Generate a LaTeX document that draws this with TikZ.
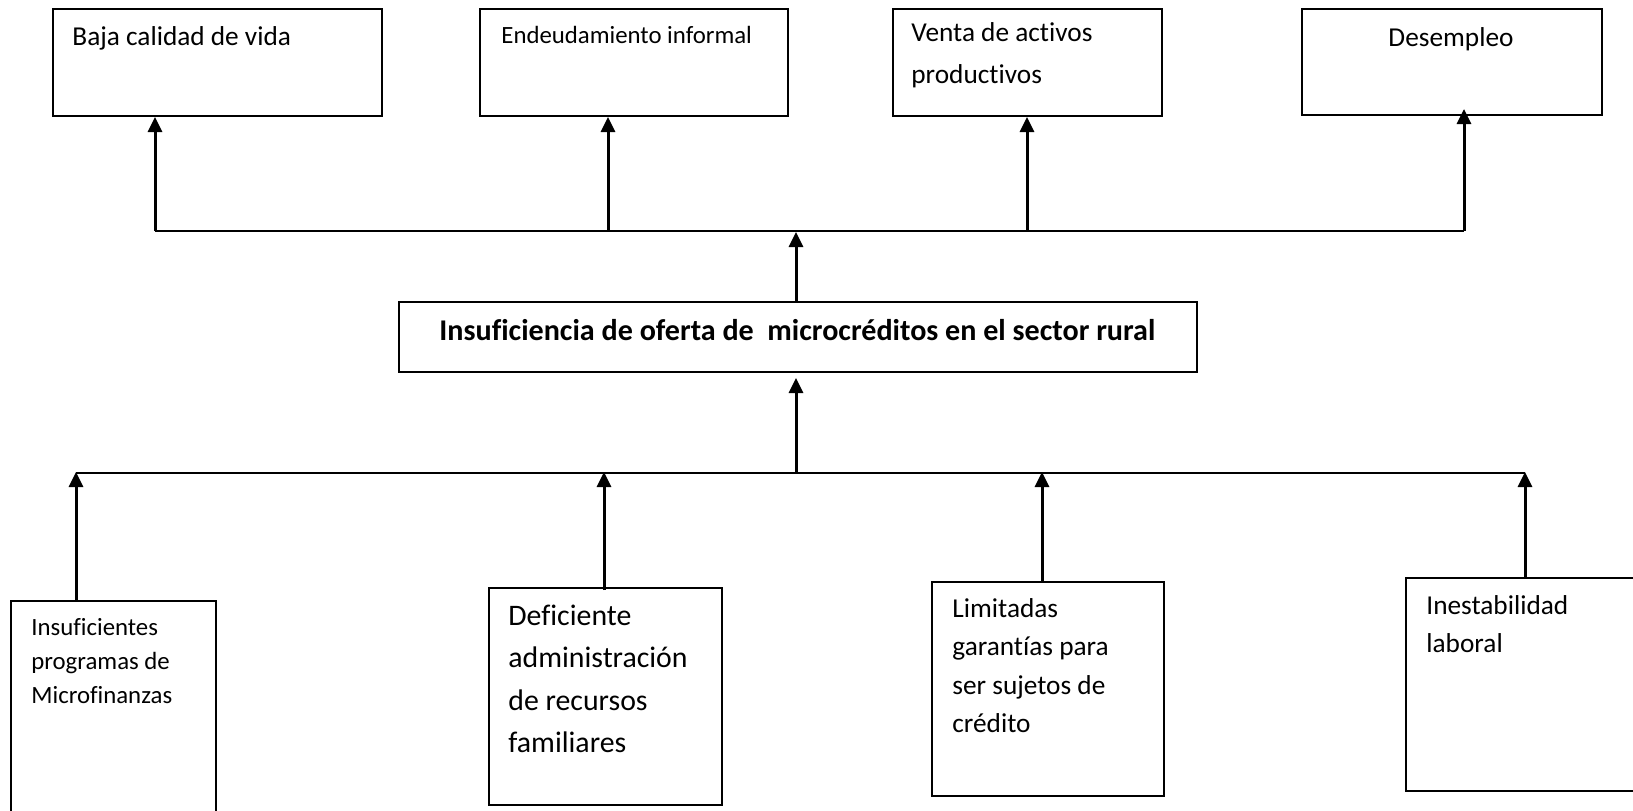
\documentclass[tikz,border=0pt]{standalone}
\usepackage{fontspec}
\setmainfont{Carlito}[Ligatures=NoCommon]
\usetikzlibrary{arrows.meta,calc,fit}
\newcommand\fzA{\fontsize{12.4pt}{17.1pt}\selectfont}
\newcommand\fzB{\fontsize{13.65pt}{19.3pt}\selectfont}
\newcommand\fzBv{\fontsize{13.65pt}{21pt}\selectfont}
\newcommand\fzC{\fontsize{14.9pt}{21.3pt}\selectfont}
\newcommand\fzH{\fontsize{15.05pt}{21.3pt}\selectfont}
\begin{document}
\begin{tikzpicture}[x=0.5pt,y=-0.5pt,
  box/.style={draw=black, line width=1pt, inner sep=0pt},
  lbl/.style={anchor=base west, inner sep=0pt, text width=200pt, align=flush left,
    execute at begin node={\spaceskip=0pt\xspaceskip=0pt}},
  lblc/.style={anchor=base, inner sep=0pt},
  head/.style={anchor=base west, inner sep=0pt, font=\fzH\bfseries},
  conn/.style={line width=1.2pt},
  arr/.style={line width=1.5pt, -{Triangle[length=7.5pt,width=7pt]}}]
\useasboundingbox (0,0) rectangle (1633,810);
\fill[white] (0,0) rectangle (1633,810);
% boxes
\node[box, fit={(53,9) (382,116)}] (baja) {};
\node[box, fit={(480,9) (788,116)}] (endeu) {};
\node[box, fit={(893,9) (1162,116)}] (venta) {};
\node[box, fit={(1302,9) (1602,115)}] (desem) {};
\node[box, fit={(399,302) (1197,372)}] (main) {};
\node[box, fit={(11,601) (216,840)}] (insuf) {};
\node[box, fit={(489,588) (722,805)}] (defic) {};
\node[box, fit={(932,582) (1164,796)}] (limit) {};
\node[box, fit={(1406,578) (1660,791)}] (inest) {};
% texts
\node[lbl, font=\fzB] (tbaja) at (72,45) {Baja calidad de vida};
\node[lbl, font=\fzA] (tendeu) at (501,43) {Endeudamiento informal};
\node[lbl, font=\fzBv] (tventa) at (911,41) {Venta de activos\\productivos};
\node[lblc, font=\fzB] (tdesem) at (1451,46) {Desempleo};
\node[head] (tmain) at (439,340) {Insuficiencia de oferta de\ \ microcréditos en el sector rural};
\node[lbl, font=\fzA] (tinsuf) at (31,635) {Insuficientes\\programas de\\Microfinanzas};
\node[lbl, font=\fzC] (tdefic) at (508,625) {Deficiente\\administración\\de recursos\\familiares};
\node[lbl, font=\fzB] (tlimit) at (952,617) {Limitadas\\garantías para\\ser sujetos de\\crédito};
\node[lbl, font=\fzB] (tinest) at (1426,614) {Inestabilidad\\laboral};
% junction points
\coordinate (t1) at (155,231);
\coordinate (t2) at (608,231);
\coordinate (t3) at (1027,231);
\coordinate (t4) at (1464,231);
\coordinate (tc) at (796,232);
\coordinate (b1) at (76,473);
\coordinate (b2) at (604,473);
\coordinate (b3) at (1042,473);
\coordinate (b4) at (1525,473);
\coordinate (bc) at (796,473);
% effects
\draw[conn] (t1) -- (t4);
\draw[arr] (t1) -- (t1 |- baja.south);
\draw[arr] (t2) -- (t2 |- endeu.south);
\draw[arr] (t3) -- (t3 |- venta.south);
\draw[arr] (t4) -- ($(t4 |- desem.south)+(0,-7)$);
\draw[arr] (tc |- main.north) -- (tc);
% causes
\draw[conn] (b1) -- (b4);
\draw[arr] (bc) -- ($(bc |- main.south)+(0,5)$);
\draw[arr] (b1 |- insuf.north) -- ($(b1)+(0,-1)$);
\draw[arr] ($(b2 |- defic.north)+(0,3)$) -- ($(b2)+(0,-1)$);
\draw[arr] (b3 |- limit.north) -- ($(b3)+(0,-1)$);
\draw[arr] (b4 |- inest.north) -- ($(b4)+(0,-1)$);
\end{tikzpicture}
\end{document}
